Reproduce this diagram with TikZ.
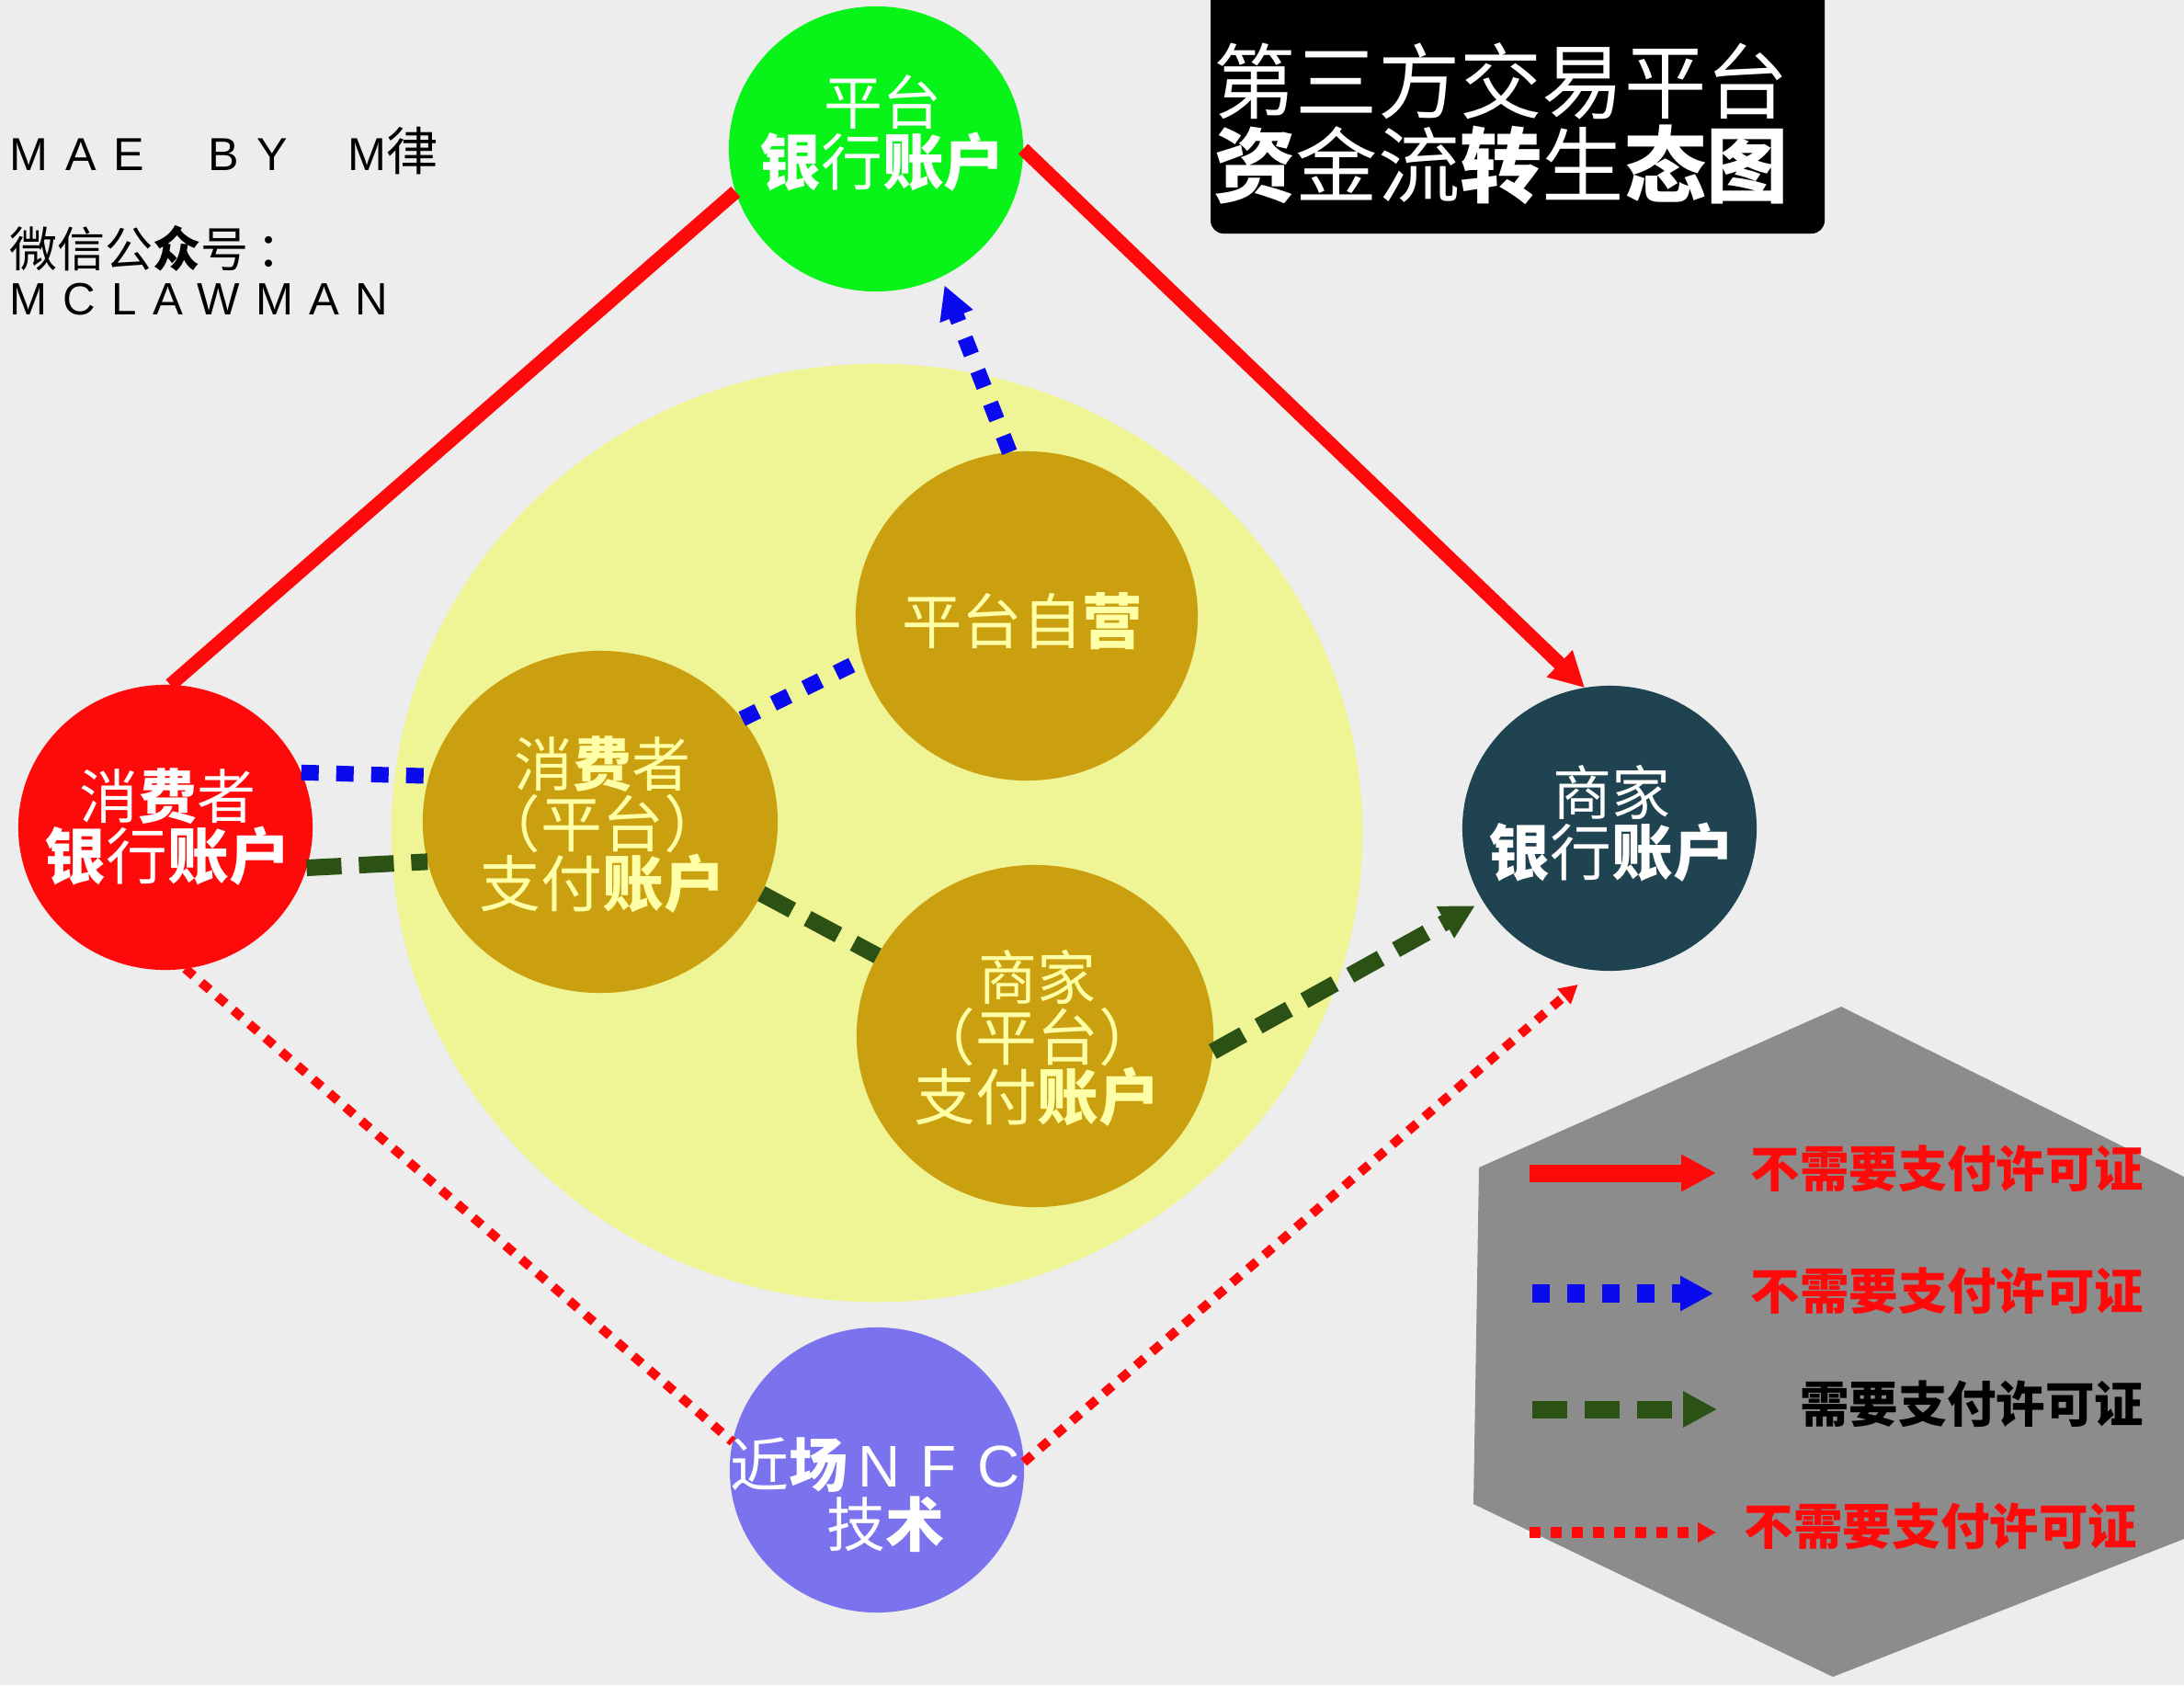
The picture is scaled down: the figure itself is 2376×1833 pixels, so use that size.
\documentclass[tikz,border=0pt]{standalone}
\usepackage{fontspec}
\setmainfont{Noto Sans CJK SC}
\newfontfamily\widefont[LetterSpace=37]{Liberation Sans}
\newfontfamily\idfont[LetterSpace=35]{Liberation Sans}
\usetikzlibrary{positioning}
\usetikzlibrary{shapes.geometric}
\usetikzlibrary{arrows.meta}
\usetikzlibrary{math}

\definecolor{paper}{HTML}{EDEDED}
\definecolor{fieldyellow}{HTML}{EFF495}
\definecolor{chipgold}{HTML}{CAA010}
\definecolor{chiptext}{HTML}{FFFFA8}
\definecolor{platgreen}{HTML}{08F418}
\definecolor{conred}{HTML}{FF0A0A}
\definecolor{merchblue}{HTML}{1F4350}
\definecolor{nfcviolet}{HTML}{7B72EE}
\definecolor{legendgray}{HTML}{8C8C8C}
\definecolor{linegreen}{HTML}{2B5214}
\definecolor{lineblue}{HTML}{0A0AEE}

\newcommand{\hv}[1]{{\bfseries #1}}
\newcommand{\acct}[1]{{\fontsize{19}{19}\selectfont #1}}
% lines of a chip, with no size of their own: moved by #1, last baseline raised by #2
\newcommand{\chiplines}[3]{\hspace*{#1}\raisebox{#2}[0pt][0pt]{\makebox[0pt]{%
  \vbox{\baselineskip=18.5pt\lineskiplimit=-30pt\halign{\hfil##\hfil\cr #3\cr}}}}}

\tikzset{
  chip/.style={ellipse, inner sep=0pt, outer sep=0pt, text=white,
    font=\fontsize{18.2}{18.5}\selectfont},
  bankchip/.style={chip, minimum width=3.2cm, minimum height=3.1cm},
  paychip/.style={chip, fill=chipgold, text=chiptext},
  legendtext/.style={anchor=east, inner sep=0pt, font=\fontsize{15.2}{18}\selectfont\bfseries},
  titletext/.style={inner sep=0pt, text=white, font=\fontsize{25.4}{30}\selectfont},
  sidetext/.style={anchor=base west, inner sep=0pt, font=\fontsize{14}{17}\selectfont},
  solidline/.style={line width=1.5mm, conred, -{Triangle[length=3.8mm,width=3.8mm]}},
  bluedash/.style={line width=1.7mm, lineblue, dash pattern=on 1.9mm off 1.9mm,
    -{Triangle[length=3.6mm,width=3.6mm]}},
  greendash/.style={line width=1.8mm, linegreen, dash pattern=on 3.8mm off 1.9mm,
    -{Triangle[length=3.7mm,width=3.7mm]}},
  reddot/.style={line width=1.0mm, conred, dash pattern=on 1.2mm off 1.1mm,
    -{Triangle[length=2.0mm,width=2.1mm]}},
}

\begin{document}
\begin{tikzpicture}[x=0.01cm,y=-0.01cm]

  \useasboundingbox (0,0) rectangle (2376,1833);
  \fill[paper] (0,0) rectangle (2376,1833);

  % Legend plate and title plate
  \fill[legendgray] (2003,1095) -- (2376,1280) -- (2376,1674) -- (1994,1824)
    -- (1603,1636) -- (1609,1270) -- cycle;
  \fill[black, rounded corners=0.14cm] (1317,-20) rectangle (1985,254);

  % Yellow field behind the payment accounts
  \node[ellipse, fill=fieldyellow, inner sep=0pt, minimum width=10.56cm, minimum height=10.2cm]
    (field) at (954,906) {};

  % Bank accounts and NFC
  \node[bankchip, fill=platgreen] (platbank) at (953,162)
    {\chiplines{0.14cm}{-0.39cm}{平台\cr\acct{\hv{银}行\hv{账户}}}};
  \node[bankchip, fill=conred] (conbank) at (180,900)
    {\chiplines{0.05cm}{-0.56cm}{消\hv{费}者\cr\acct{\hv{银}行\hv{账户}}}};
  \node[bankchip, fill=merchblue] (merchbank) at (1751,901)
    {\chiplines{0.05cm}{-0.51cm}{商家\cr\acct{\hv{银}行\hv{账户}}}};
  \node[bankchip, fill=nfcviolet] (nfc) at (954,1599)
    {\chiplines{-0.04cm}{-0.83cm}{近\hv{场}{\idfont\,NFC}\cr\hskip0.22cm 技\hv{术}}};

  % Payment accounts
  \node[paychip, minimum width=3.72cm, minimum height=3.58cm, font=\fontsize{18.6}{18.5}\selectfont]
    (selfplat) at (1117,670) {\chiplines{-0.1cm}{-0.3cm}{平台自\hv{营}}};
  \node[paychip, minimum width=3.86cm, minimum height=3.72cm] (conpay) at (653,894)
    {\chiplines{0.05cm}{-0.92cm}{消\hv{费}者\cr\acct{（平台）}\cr\acct{支付\hv{账户}}}};
  \node[paychip, minimum width=3.88cm, minimum height=3.72cm] (merchpay) at (1126,1127)
    {\chiplines{0.05cm}{-0.91cm}{商家\cr\acct{（平台）}\cr\acct{支付\hv{账户}}}};

  % Title
  \node[titletext] (titleone) at (1633,88) {第三方交易平台};
  \node[titletext] (titletwo) at (1633,179) {\hv{资}金流\hv{转}生\hv{态图}};

  % Side note
  \node[sidetext, font=\fontsize{14.3}{17}\selectfont] (madeby) at (10,185)
    {{\widefont MAE\hspace{0.7cm}BY\hspace{0.66cm}M}{\fontsize{16}{17}\selectfont 律}};
  \node[sidetext, font=\fontsize{14.8}{17}\selectfont] (wechat) at (10,290) {微信公\hv{众}号\,：};
  \node[sidetext] (wechatid) at (10,342) {{\idfont MCLAWMAN}};

  % Connectors between the accounts
  \draw[solidline, -] (conbank.88) -- (platbank.197);
  \draw[solidline] (platbank.east) -- (merchbank.100);
  \draw[bluedash, -] (conbank.22) -- (conpay.165);
  \draw[greendash, -] (conbank.-16) -- (conpay.193);
  \draw[bluedash, -] (conpay.36) -- (selfplat.195);
  \draw[greendash, -] (conpay.-24) -- (merchpay.153);
  \draw[bluedash, shorten >=0.1cm] (selfplat.96) -- (platbank.-63);
  \draw[greendash, shorten >=0.1cm] (merchpay.-5) -- (merchbank.210);
  \draw[reddot, -] (conbank.-82) -- (nfc.169);
  \draw[reddot, shorten >=0.24cm] (nfc.3) -- (merchbank.264);

  % Legend rows
  \coordinate (keyaa) at (1664,1276);
  \coordinate (keyab) at (1867,1276);
  \coordinate (keyba) at (1667,1407);
  \coordinate (keybb) at (1864,1407);
  \coordinate (keyca) at (1667,1533);
  \coordinate (keycb) at (1868,1533);
  \coordinate (keyda) at (1664,1667);
  \coordinate (keydb) at (1867,1667);

  \draw[solidline, line width=1.9mm] (keyaa) -- (keyab);
  \draw[bluedash, line width=2.0mm] (keyba) -- (keybb);
  \draw[greendash, line width=1.9mm] (keyca) -- (keycb);
  \draw[reddot, line width=1.2mm] (keyda) -- (keydb);

  \node[legendtext, text=conred] (keytexta) at (2333,1271) {不需要支付许可证};
  \node[legendtext, text=conred] (keytextb) at (2333,1404) {不需要支付许可证};
  \node[legendtext, text=black] (keytextc) at (2333,1527) {需要支付许可证};
  \node[legendtext, text=conred] (keytextd) at (2326,1660) {不需要支付许可证};

\end{tikzpicture}
\end{document}
